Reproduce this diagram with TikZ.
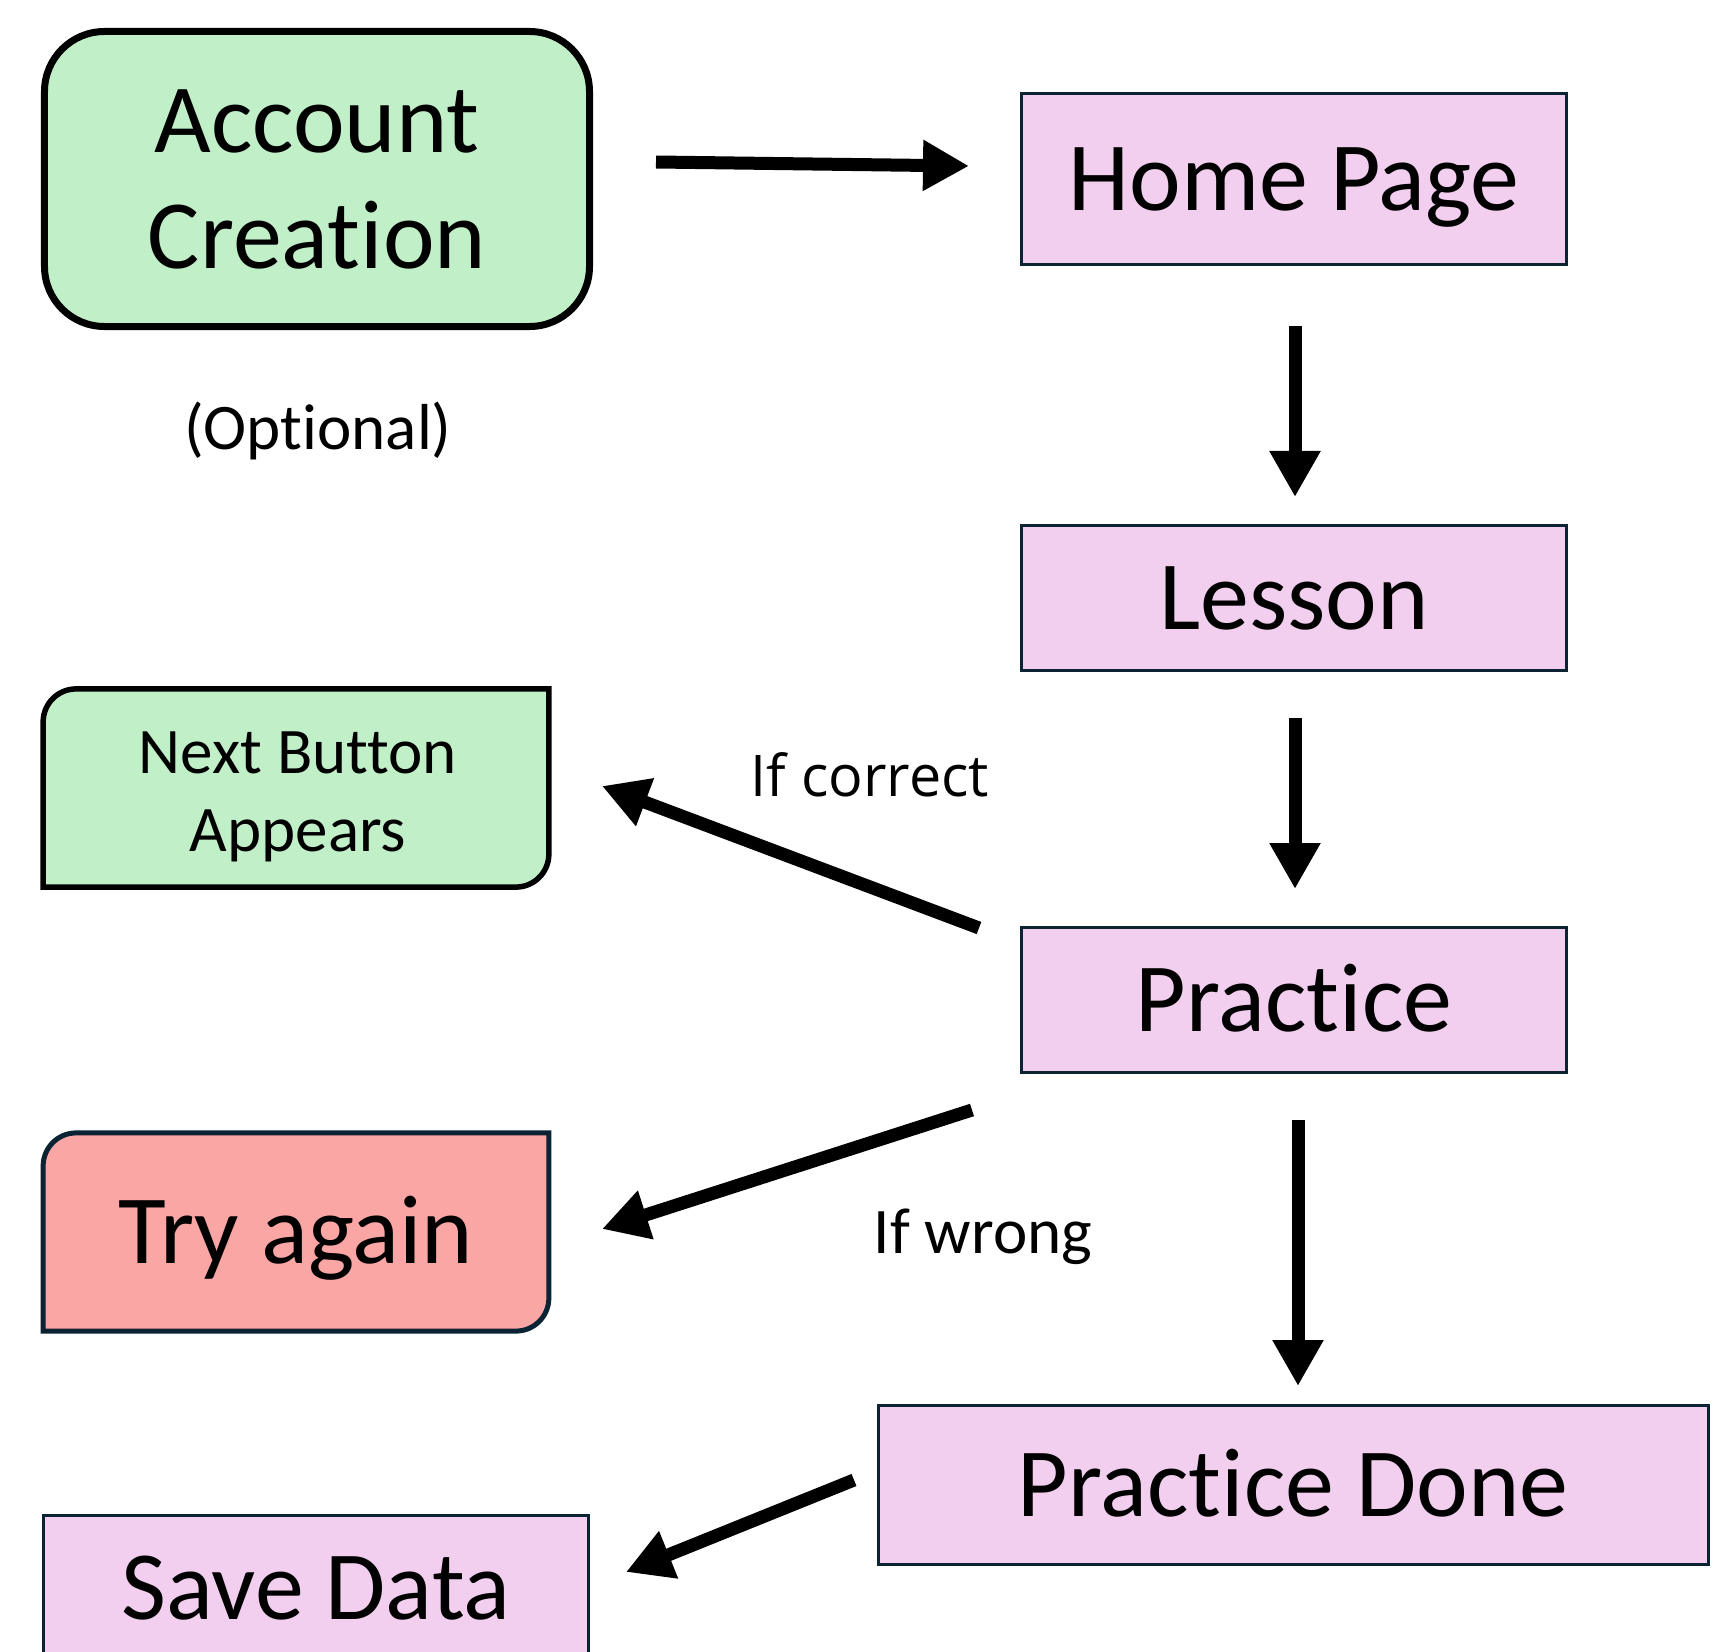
\documentclass[tikz,border=0pt]{standalone}
\usepackage{fontspec}
\setmainfont{Carlito}[RawFeature={-liga;-clig;-calt;-dlig}]
\newfontfamily\notefont{Open Sans}
\usetikzlibrary{arrows.meta,calc,backgrounds}

\definecolor{boxgreen}{HTML}{C1F0C8}
\definecolor{boxpink}{HTML}{F2CEEF}
\definecolor{boxred}{HTML}{FAA6A4}
\definecolor{boxline}{HTML}{0B2333}

\tikzset{
  pagebox/.style={draw=boxline, line width=0.6mm, fill=boxpink,
    text height=35.9pt, text depth=0pt,
    font=\fontsize{55.7}{66}\selectfont},
  startbox/.style={draw=black, line width=1.4mm, fill=boxgreen, rounded corners=12mm,
    minimum width=109mm, minimum height=59mm, align=center,
    font=\fontsize{55.7}{66}\selectfont},
  sidebox/.style={minimum width=101mm, minimum height=39.5mm},
  flow/.style={-{Triangle[length=9.2mm,width=9.6mm]}, line width=2.6mm},
  note/.style={font=\fontsize{37}{44}\selectfont}
}

\begin{document}
\begin{tikzpicture}[x=0.2mm, y=0.2mm]
\clip (0,0) rectangle (1732,-1652);

% Boxes
\node[startbox] (acc) at (317,-179) {Account\\Creation};
\node[note] (opt) at (318,-431) {(Optional)};

\node[pagebox, minimum width=109mm, minimum height=34.2mm] (home) at (1294,-179) {Home Page};
\node[pagebox, minimum width=109mm, minimum height=29mm] (lesson) at (1294,-598) {Lesson};
\node[pagebox, minimum width=109mm, minimum height=29mm] (practice) at (1294,-1000) {Practice};
\node[pagebox, minimum width=166mm, minimum height=31.8mm] (done) at (1293,-1485) {Practice Done};
\node[pagebox, minimum width=109mm, minimum height=29mm] (save) at (316,-1588) {Save Data};

\node[sidebox] (next) at (296,-788) {};
\node[note, align=center] (nexttext) at (298,-797) {Next Button\\Appears};
\node[sidebox, font=\fontsize{55.7}{66}\selectfont, text height=35.9pt, text depth=0pt]
  (try) at (296,-1232) {Try again};

% Side box outlines (two round corners)
\begin{scope}[on background layer]
\draw[draw=black, line width=1.1mm, fill=boxgreen]
  (next.south west) -- ($(next.north west)+(0,-33)$)
  arc[start angle=180, end angle=90, radius=33] -- (next.north east)
  -- ($(next.south east)+(0,33)$)
  arc[start angle=0, end angle=-90, radius=33] -- cycle;
\draw[draw=boxline, line width=1mm, fill=boxred]
  (try.south west) -- ($(try.north west)+(0,-33)$)
  arc[start angle=180, end angle=90, radius=33] -- (try.north east)
  -- ($(try.south east)+(0,33)$)
  arc[start angle=0, end angle=-90, radius=33] -- cycle;
\end{scope}

% Arrow ends
\coordinate (a1s) at (656,-162);  \coordinate (a1e) at (969,-166);
\coordinate (a2s) at (1295,-326); \coordinate (a2e) at (1295,-497);
\coordinate (a3s) at (1295,-718); \coordinate (a3e) at (1295,-889);
\coordinate (a4s) at (1298,-1120); \coordinate (a4e) at (1298,-1386);
\coordinate (a5s) at (854,-1480); \coordinate (a5e) at (626,-1572);
\coordinate (oks) at (979,-928);  \coordinate (oke) at (602,-786);
\coordinate (nos) at (972,-1110); \coordinate (noe) at (602,-1229);

% Arrows
\draw[flow] (a1s) -- (a1e);
\draw[flow] (a2s) -- (a2e);
\draw[flow] (a3s) -- (a3e);
\draw[flow] (a4s) -- (a4e);
\draw[flow] (a5s) -- (a5e);
\draw[flow] (oks) -- (oke);
\draw[flow] (nos) -- (noe);

% Labels
\node[font=\notefont\fontsize{32.7}{40}\selectfont] (ifok) at (870,-775) {If correct};
\node[note] (ifno) at (983,-1237) {If wrong};
\end{tikzpicture}
\end{document}
